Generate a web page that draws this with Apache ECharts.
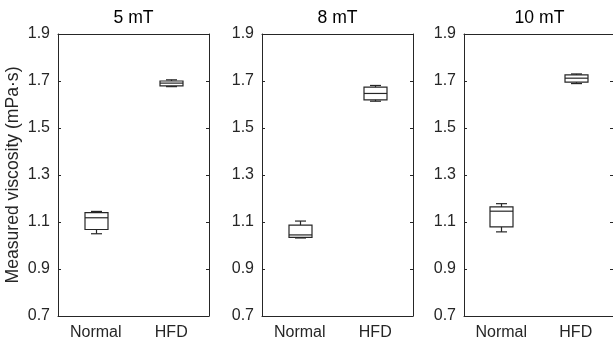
<!DOCTYPE html>
<html lang="en">

<head>
    <meta charset="UTF-8">
    <title>Measured viscosity boxplots</title>
    <script src="https://cdn.jsdelivr.net/npm/echarts@6/dist/echarts.min.js"></script>
    <style>
        body { margin: 0; background: #fff; }
    </style>
</head>

<body>
    <div id="chart" style="width: 613px; height: 348px;"></div>
    <script>
        // groups and panel titles
        var categories = ['Normal', 'HFD'];
        var panelTitles = ['5 mT', '8 mT', '10 mT'];
        var yTicks = [0.7, 0.9, 1.1, 1.3, 1.5, 1.7, 1.9];

        // box stats per group: [min, q1, median, q3, max]
        var stats5mT = [[1.050, 1.068, 1.118, 1.140, 1.145], [1.676, 1.679, 1.691, 1.700, 1.705]];
        var stats8mT = [[1.032, 1.035, 1.045, 1.087, 1.104], [1.614, 1.620, 1.647, 1.674, 1.681]];
        var stats10mT = [[1.058, 1.079, 1.146, 1.164, 1.178], [1.689, 1.695, 1.712, 1.726, 1.730]];
        var allStats = [stats5mT, stats8mT, stats10mT];

        var ink = '#262626';
        var gridLefts = [58, 262, 464];
        var boxW = 23;
        var capW = 11;

        var chart = echarts.init(document.getElementById('chart'));

        var titles = [], grids = [], xAxes = [], yAxes = [], series = [];

        for (var p = 0; p < 3; p++) {
            titles.push({
                text: panelTitles[p],
                left: gridLefts[p] + 75.5,
                top: 9,
                textAlign: 'center',
                padding: 0,
                textStyle: { fontFamily: 'Liberation Sans', fontSize: 17.6, fontWeight: 'normal', color: '#000' }
            });
            grids.push({ left: gridLefts[p], top: 34, width: 151, height: 282 });

            // bottom and top x axes (top one only mirrors ticks)
            xAxes.push({
                type: 'category', gridIndex: p, position: 'bottom', data: categories,
                axisLine: { lineStyle: { color: ink, width: 1 } },
                axisTick: { inside: true, length: 3, alignWithLabel: true, lineStyle: { color: ink } },
                axisLabel: { margin: 9, fontFamily: 'Liberation Sans', fontSize: 16, color: ink }
            });
            xAxes.push({
                type: 'category', gridIndex: p, position: 'top', data: categories,
                axisLine: { lineStyle: { color: ink, width: 1 } },
                axisTick: { inside: true, length: 3, alignWithLabel: true, lineStyle: { color: ink } },
                axisLabel: { show: false }
            });

            var yBase = {
                type: 'value', gridIndex: p, min: yTicks[0], max: yTicks[yTicks.length - 1], interval: 0.2,
                splitLine: { show: false },
                axisLine: { show: true, lineStyle: { color: ink, width: 1 } },
                axisTick: { show: true, inside: true, length: 3, lineStyle: { color: ink } }
            };
            yAxes.push(Object.assign({}, yBase, {
                position: 'left',
                name: p === 0 ? 'Measured viscosity (mPa·s)' : '',
                nameLocation: 'middle',
                nameGap: 36,
                nameTextStyle: { fontFamily: 'Liberation Sans', fontSize: 17.6, color: ink },
                axisLabel: {
                    margin: 8, fontFamily: 'Liberation Sans', fontSize: 16, color: ink,
                    formatter: function (v) { return v.toFixed(1); }
                }
            }));
            yAxes.push(Object.assign({}, yBase, { position: 'right', axisLabel: { show: false } }));

            var rows = allStats[p].map(function (s, i) { return [i].concat(s); });
            series.push({
                type: 'custom',
                xAxisIndex: p * 2,
                yAxisIndex: p * 2,
                data: rows,
                renderItem: function (params, api) {
                    var c = api.value(0);
                    var pMin = api.coord([c, api.value(1)]);
                    var pQ1 = api.coord([c, api.value(2)]);
                    var pMed = api.coord([c, api.value(3)]);
                    var pQ3 = api.coord([c, api.value(4)]);
                    var pMax = api.coord([c, api.value(5)]);
                    var x = Math.round(pMed[0]) + 0.5;
                    var st = { stroke: ink, lineWidth: 1.2, fill: null };
                    function line(x1, y1, x2, y2) {
                        return { type: 'line', shape: { x1: x1, y1: y1, x2: x2, y2: y2 }, style: st };
                    }
                    return {
                        type: 'group',
                        children: [
                            { type: 'rect', shape: { x: x - boxW / 2, y: pQ3[1], width: boxW, height: pQ1[1] - pQ3[1] }, style: st },
                            line(x - boxW / 2, pMed[1], x + boxW / 2, pMed[1]),
                            line(x, pQ3[1], x, pMax[1]),
                            line(x, pQ1[1], x, pMin[1]),
                            line(x - capW / 2, pMax[1], x + capW / 2, pMax[1]),
                            line(x - capW / 2, pMin[1], x + capW / 2, pMin[1])
                        ]
                    };
                }
            });
        }

        chart.setOption({
            animation: false,
            title: titles,
            grid: grids,
            xAxis: xAxes,
            yAxis: yAxes,
            series: series
        });
    </script>
</body>

</html>
